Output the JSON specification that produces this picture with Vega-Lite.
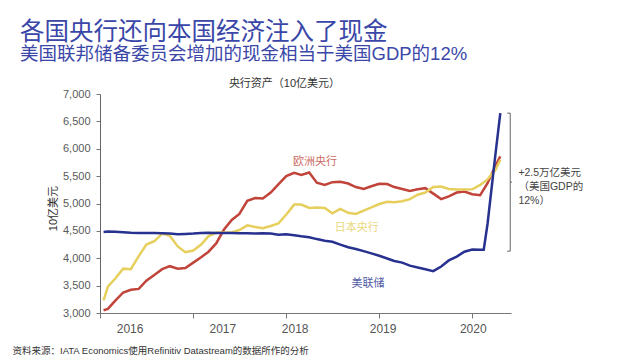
{
  "$schema": "https://vega.github.io/schema/vega-lite/v6.json",
  "width": 411,
  "height": 219,
  "autosize": {"type": "none"},
  "padding": {"left": 100, "top": 94, "right": 129, "bottom": 47},
  "background": "white",
  "config": {
    "view": {"stroke": null},
    "font": "Liberation Sans",
    "axisY": {
      "values": [3000, 3500, 4000, 4500, 5000, 5500, 6000, 6500, 7000],
      "format": ",.0f", "grid": false,
      "labelFont": "Liberation Sans", "labelFontSize": 11, "labelColor": "#595959", "labelPadding": 6,
      "tickSize": 4, "tickColor": "#777", "domainColor": "#666",
      "titleFont": "Liberation Sans, Noto Sans CJK SC", "titleFontSize": 11, "titleFontWeight": "normal", "titleColor": "#333",
      "titleX": -47, "titleY": 114, "titleAlign": "center", "titleBaseline": "middle"
    }
  },
  "title": {
    "text": "各国央行还向本国经济注入了现金",
    "subtitle": "美国联邦储备委员会增加的现金相当于美国GDP的12%",
    "anchor": "start",
    "frame": "group",
    "dx": -80,
    "offset": 13,
    "font": "Liberation Sans, Noto Sans CJK SC",
    "fontSize": 24.5,
    "fontWeight": "normal",
    "color": "#3a47a8",
    "subtitleFont": "Liberation Sans, Noto Sans CJK SC",
    "subtitleFontSize": 18.5,
    "subtitleFontWeight": "normal",
    "subtitleColor": "#3a47a8",
    "subtitlePadding": -1
  },
  "datasets": {
    "banks": [
      {"d": "2016-01-15", "ecb": 3050, "boj": 3230, "fed": 4480},
      {"d": "2016-02-01", "ecb": 3075, "boj": 3480, "fed": 4490},
      {"d": "2016-03-01", "ecb": 3225, "boj": 3630, "fed": 4485},
      {"d": "2016-04-01", "ecb": 3375, "boj": 3810, "fed": 4475},
      {"d": "2016-05-01", "ecb": 3425, "boj": 3800, "fed": 4465},
      {"d": "2016-06-01", "ecb": 3440, "boj": 4040, "fed": 4460},
      {"d": "2016-07-01", "ecb": 3590, "boj": 4250, "fed": 4460},
      {"d": "2016-08-01", "ecb": 3695, "boj": 4310, "fed": 4460},
      {"d": "2016-09-01", "ecb": 3800, "boj": 4450, "fed": 4455},
      {"d": "2016-10-01", "ecb": 3855, "boj": 4410, "fed": 4450},
      {"d": "2016-11-01", "ecb": 3810, "boj": 4215, "fed": 4440},
      {"d": "2016-12-01", "ecb": 3820, "boj": 4110, "fed": 4445},
      {"d": "2017-01-01", "ecb": 3920, "boj": 4140, "fed": 4450},
      {"d": "2017-02-01", "ecb": 4020, "boj": 4250, "fed": 4460},
      {"d": "2017-03-01", "ecb": 4115, "boj": 4400, "fed": 4465},
      {"d": "2017-04-01", "ecb": 4270, "boj": 4470, "fed": 4460},
      {"d": "2017-05-01", "ecb": 4520, "boj": 4470, "fed": 4460},
      {"d": "2017-06-01", "ecb": 4700, "boj": 4470, "fed": 4460},
      {"d": "2017-07-01", "ecb": 4810, "boj": 4515, "fed": 4455},
      {"d": "2017-08-01", "ecb": 5050, "boj": 4600, "fed": 4455},
      {"d": "2017-09-01", "ecb": 5100, "boj": 4570, "fed": 4450},
      {"d": "2017-10-01", "ecb": 5090, "boj": 4550, "fed": 4455},
      {"d": "2017-11-01", "ecb": 5200, "boj": 4590, "fed": 4450},
      {"d": "2017-12-01", "ecb": 5350, "boj": 4635, "fed": 4430},
      {"d": "2018-01-01", "ecb": 5500, "boj": 4800, "fed": 4440},
      {"d": "2018-02-01", "ecb": 5560, "boj": 4980, "fed": 4420},
      {"d": "2018-03-01", "ecb": 5520, "boj": 4980, "fed": 4400},
      {"d": "2018-04-01", "ecb": 5565, "boj": 4920, "fed": 4385},
      {"d": "2018-05-01", "ecb": 5380, "boj": 4925, "fed": 4350},
      {"d": "2018-06-01", "ecb": 5340, "boj": 4920, "fed": 4320},
      {"d": "2018-07-01", "ecb": 5390, "boj": 4820, "fed": 4300},
      {"d": "2018-08-01", "ecb": 5395, "boj": 4900, "fed": 4250},
      {"d": "2018-09-01", "ecb": 5365, "boj": 4830, "fed": 4200},
      {"d": "2018-10-01", "ecb": 5300, "boj": 4810, "fed": 4170},
      {"d": "2018-11-01", "ecb": 5265, "boj": 4870, "fed": 4130},
      {"d": "2018-12-01", "ecb": 5315, "boj": 4930, "fed": 4090},
      {"d": "2019-01-01", "ecb": 5360, "boj": 4990, "fed": 4045},
      {"d": "2019-02-01", "ecb": 5355, "boj": 5030, "fed": 3995},
      {"d": "2019-03-01", "ecb": 5300, "boj": 5025, "fed": 3950},
      {"d": "2019-04-01", "ecb": 5265, "boj": 5040, "fed": 3920},
      {"d": "2019-05-01", "ecb": 5230, "boj": 5080, "fed": 3865},
      {"d": "2019-06-01", "ecb": 5260, "boj": 5160, "fed": 3830},
      {"d": "2019-07-01", "ecb": 5280, "boj": 5200, "fed": 3800},
      {"d": "2019-08-01", "ecb": 5180, "boj": 5300, "fed": 3765},
      {"d": "2019-09-01", "ecb": 5080, "boj": 5310, "fed": 3850},
      {"d": "2019-10-01", "ecb": 5130, "boj": 5265, "fed": 3960},
      {"d": "2019-11-01", "ecb": 5200, "boj": 5255, "fed": 4030},
      {"d": "2019-12-01", "ecb": 5220, "boj": 5255, "fed": 4120},
      {"d": "2020-01-01", "ecb": 5170, "boj": 5260, "fed": 4160},
      {"d": "2020-02-01", "ecb": 5152, "boj": 5340, "fed": 4155},
      {"d": "2020-02-15", "fed": 4155},
      {"d": "2020-03-01", "ecb": 5370, "boj": 5440, "fed": 4630},
      {"d": "2020-04-01", "ecb": 5690, "boj": 5610, "fed": 5900},
      {"d": "2020-04-20", "ecb": 5860, "boj": 5800, "fed": 6650}
    ],
    "years": [
      {"d": "2016-04-28", "t": "2016"},
      {"d": "2017-04-27", "t": "2017"},
      {"d": "2018-02-05", "t": "2018"},
      {"d": "2019-01-16", "t": "2019"},
      {"d": "2020-01-05", "t": "2020"}
    ],
    "labels": [
      {"d": "2018-04-24", "v": 5757, "t": "欧洲央行", "bank": "ecb"},
      {"d": "2018-10-05", "v": 4552, "t": "日本央行", "bank": "boj"},
      {"d": "2018-11-18", "v": 3530, "t": "美联储", "bank": "fed"}
    ],
    "bracket": [
      {"d1": "2020-05-29", "d2": "2020-05-29", "v1": 6650, "v2": 4130},
      {"d1": "2020-05-17", "d2": "2020-05-29", "v1": 6650, "v2": 6650},
      {"d1": "2020-05-17", "d2": "2020-05-29", "v1": 4130, "v2": 4130},
      {"d1": "2020-05-29", "d2": "2020-06-05", "v1": 5390, "v2": 5390}
    ],
    "note": [
      {"d": "2020-06-30", "v": 5560, "t": "+2.5万亿美元"},
      {"d": "2020-06-30", "v": 5300, "t": "（美国GDP的"},
      {"d": "2020-06-30", "v": 5050, "t": "12%）"}
    ]
  },
  "resolve": {"axis": {"x": "independent"}},
  "layer": [
    {
      "data": {"name": "banks"},
      "transform": [
        {"fold": ["ecb", "boj", "fed"], "as": ["bank", "v"]},
        {"filter": "isValid(datum.v)"}
      ],
      "mark": {"type": "line", "strokeWidth": 2.5},
      "encoding": {
        "x": {
          "field": "d", "type": "temporal",
          "scale": {"type": "utc", "nice": false, "domain": [{"year": 2016, "month": 1, "date": 1, "utc": true}, {"year": 2020, "month": 6, "date": 1, "utc": true}]},
          "axis": {
            "orient": "bottom",
            "values": [
              {"year": 2016, "month": 1, "date": 1, "utc": true},
              {"year": 2017, "month": 1, "date": 1, "utc": true},
              {"year": 2018, "month": 1, "date": 1, "utc": true},
              {"year": 2019, "month": 1, "date": 1, "utc": true},
              {"year": 2020, "month": 1, "date": 1, "utc": true}
            ],
            "labels": false, "grid": false,
            "tickSize": 5, "tickColor": "#777", "domainColor": "#777",
            "title": "资料来源：IATA Economics使用Refinitiv Datastream的数据所作的分析",
            "titleFont": "Liberation Sans, Noto Sans CJK SC", "titleFontSize": 9.5, "titleFontWeight": "normal", "titleColor": "#333",
            "titleX": -88, "titleY": 37, "titleAlign": "left", "titleBaseline": "middle"
          }
        },
        "y": {
          "field": "v", "type": "quantitative",
          "scale": {"domain": [3000, 7000], "nice": false, "zero": false},
          "axis": {"title": "10亿美元", "format": ",.0f"}
        },
        "color": {
          "field": "bank", "type": "nominal",
          "scale": {"domain": ["ecb", "boj", "fed"], "range": ["#c1443a", "#e6cf5c", "#27318f"]},
          "legend": null
        }
      }
    },
    {
      "data": {"name": "years"},
      "mark": {"type": "text", "font": "Liberation Sans", "fontSize": 12, "color": "#555", "dy": 16, "align": "center", "baseline": "middle"},
      "encoding": {
        "x": {
          "field": "d", "type": "temporal",
          "axis": {
            "orient": "top", "labels": false, "ticks": false, "domain": false, "grid": false,
            "title": "央行资产（10亿美元）", "titleFont": "Liberation Sans, Noto Sans CJK SC", "titleFontSize": 11, "titleFontWeight": "normal", "titleColor": "#333",
            "titleX": 184, "titleY": -11, "titleAlign": "center", "titleBaseline": "middle"
          }
        },
        "y": {"datum": 3000, "type": "quantitative", "axis": {"title": "10亿美元", "format": ",.0f"}},
        "text": {"field": "t"}
      }
    },
    {
      "data": {"name": "labels"},
      "mark": {"type": "text", "font": "Liberation Sans, Noto Sans CJK SC", "fontSize": 11, "opacity": 0.8, "align": "center", "baseline": "middle"},
      "encoding": {
        "x": {"field": "d", "type": "temporal", "axis": null},
        "y": {"field": "v", "type": "quantitative", "axis": {"title": "10亿美元", "format": ",.0f"}},
        "color": {"field": "bank", "type": "nominal", "legend": null},
        "text": {"field": "t"}
      }
    },
    {
      "data": {"name": "bracket"},
      "mark": {"type": "rule", "color": "#666", "strokeWidth": 1},
      "encoding": {
        "x": {"field": "d1", "type": "temporal", "axis": null},
        "x2": {"field": "d2"},
        "y": {"field": "v1", "type": "quantitative", "axis": {"title": "10亿美元", "format": ",.0f"}},
        "y2": {"field": "v2"}
      }
    },
    {
      "data": {"name": "note"},
      "mark": {"type": "text", "font": "Liberation Sans, Noto Sans CJK SC", "fontSize": 10.5, "color": "#444", "align": "left", "baseline": "middle"},
      "encoding": {
        "x": {"field": "d", "type": "temporal", "axis": null},
        "y": {"field": "v", "type": "quantitative", "axis": {"title": "10亿美元", "format": ",.0f"}},
        "text": {"field": "t"}
      }
    }
  ]
}
